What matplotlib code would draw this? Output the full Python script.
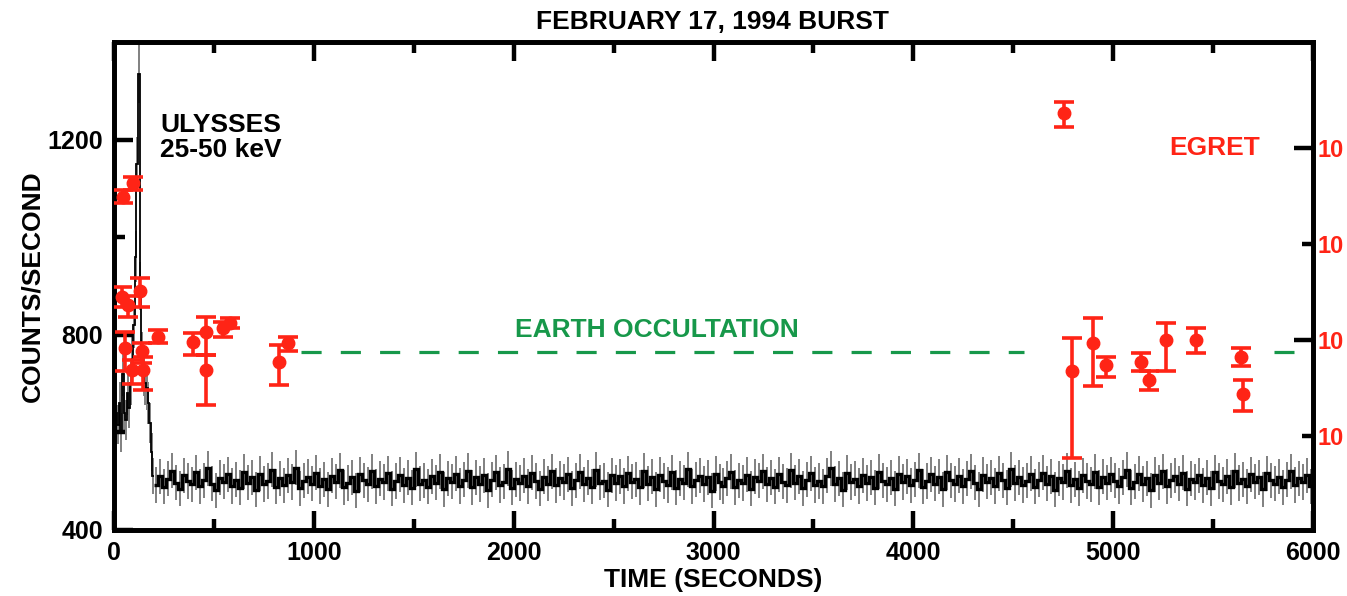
import numpy as np
import matplotlib
matplotlib.use("Agg")
import matplotlib.pyplot as plt
from matplotlib.ticker import FixedLocator, FixedFormatter

plt.rcParams['font.family'] = ['Liberation Sans', 'DejaVu Sans']
plt.rcParams['font.weight'] = 'bold'

# Ulysses 25-50 keV: burst in 8 s bins, then background in 20 s bins
burst_edges = np.arange(0, 201, 8)
burst_counts = [605, 640, 615, 660, 600, 720, 640, 625, 680, 650, 700, 750, 820,
                960, 1150, 1335, 900, 760, 720, 700, 690, 660, 620, 560, 510]
burst_err = [40, 42, 40, 43, 40, 45, 42, 41, 44, 42, 44, 46, 48,
             52, 56, 60, 50, 46, 45, 44, 44, 43, 41, 39, 37]

bg_edges = np.arange(200, 6001, 20)
bg_counts = [
    492, 510, 488, 505, 521, 497, 484, 512, 500, 493, 518, 489, 502, 526, 495, 481, 507, 499, 514, 490,
    503, 486, 519, 497, 508, 482, 515, 494, 500, 523, 488, 506, 491, 512, 498, 527, 485, 501, 509, 495,
    517, 490, 504, 483, 511, 499, 522, 487, 496, 508, 480, 514, 502, 493, 520, 489, 505, 498, 516, 484,
    500, 513, 491, 507, 486, 524, 495, 502, 488, 510, 497, 519, 483, 506, 499, 515, 490, 503, 521, 487,
    508, 494, 512, 481, 503, 518, 492, 499, 525, 486, 504, 496, 511, 489, 517, 500, 484, 509, 495, 520,
    491, 506, 498, 514, 485, 502, 519, 493, 507, 488, 523, 497, 501, 482, 512, 496, 510, 490, 516, 499,
    504, 487, 521, 495, 509, 483, 513, 500, 492, 518, 486, 505, 497, 524, 489, 503, 511, 494, 508, 480,
    515, 498, 490, 506, 519, 487, 502, 496, 513, 484, 509, 501, 520, 493, 507, 488, 514, 499, 491, 522,
    497, 510, 485, 503, 516, 492, 500, 489, 511, 526, 494, 506, 482, 517, 498, 505, 490, 512, 496, 508,
    486, 519, 501, 493, 507, 484, 515, 498, 510, 491, 503, 522, 488, 500, 514, 495, 509, 483, 518, 502,
    494, 511, 489, 505, 520, 497, 483, 513, 499, 507, 490, 516, 502, 486, 524, 496, 508, 492, 501, 515,
    488, 503, 517, 495, 510, 482, 506, 498, 521, 491, 504, 485, 512, 500, 493, 519, 487, 509, 497, 514,
    501, 490, 508, 523, 486, 499, 515, 494, 506, 481, 513, 497, 520, 489, 502, 511, 495, 517, 484, 505,
    498, 512, 491, 507, 485, 518, 500, 493, 510, 487, 521, 496, 504, 489, 514, 499, 508, 483, 516, 502,
    495, 509, 487, 503, 520, 492, 506, 498, 512, 489]
bg_err = 36

# EGRET points (time in s, flux with lower / upper limits)
egret_t = [47, 97, 38, 72, 130, 55, 139, 88, 147, 222, 394, 460, 460, 547, 580, 827, 872,
           4755, 4794, 4900, 4964, 5139, 5180, 5264, 5414, 5639, 5650]
egret_flux = [3.1e-6, 4.3e-6, 2.8e-7, 2.3e-7, 3.2e-7, 8.2e-8, 7.6e-8, 4.9e-8, 4.9e-8,
              1.08e-7, 9.4e-8, 1.22e-7, 4.9e-8, 1.32e-7, 1.49e-7, 5.9e-8, 9.2e-8,
              2.3e-5, 4.7e-8, 9.2e-8, 5.5e-8, 5.9e-8, 3.8e-8, 1.0e-7, 1.0e-7, 6.6e-8, 2.7e-8]
egret_lo = [2.65e-6, 3.65e-6, 2.2e-7, 1.75e-7, 2.2e-7, 4.7e-8, 5.7e-8, 3.5e-8, 3.0e-8,
            9.2e-8, 7.0e-8, 7.0e-8, 2.1e-8, 1.08e-7, 1.32e-7, 3.4e-8, 7.6e-8,
            1.67e-5, 5.9e-9, 3.3e-8, 4.1e-8, 4.7e-8, 3.0e-8, 4.8e-8, 7.3e-8, 5.3e-8, 1.8e-8]
egret_hi = [3.65e-6, 5.0e-6, 3.6e-7, 2.9e-7, 4.4e-7, 1.22e-7, 9.2e-8, 6.2e-8, 6.7e-8,
            1.27e-7, 1.17e-7, 1.75e-7, 7.0e-8, 1.55e-7, 1.68e-7, 8.9e-8, 1.08e-7,
            3.0e-5, 1.04e-7, 1.68e-7, 6.7e-8, 7.3e-8, 4.7e-8, 1.49e-7, 1.32e-7, 8.2e-8, 3.8e-8]

# earth occultation intervals
occ_start = [938, 5805]
occ_end = [4555, 5905]
occ_level = 765

red = '#ff2416'
green = '#17984a'

fig = plt.figure(figsize=(13.47, 5.96), dpi=100)
ax = fig.add_axes([0.0846, 0.111, 0.8902, 0.8185])

# ulysses light curve
for edges, counts, err, lw in [(burst_edges, burst_counts, burst_err, 1.3),
                               (bg_edges, bg_counts, bg_err, 2.4)]:
    counts = np.array(counts)
    mids = 0.5 * (edges[:-1] + edges[1:])
    ax.vlines(mids, counts - err, counts + err, color='0.5', lw=1.4, zorder=1)
    ax.stairs(counts, edges, baseline=None, color='black', lw=lw, zorder=2)

for s, e in zip(occ_start, occ_end):
    ax.plot([s, e], [occ_level, occ_level], color=green, lw=2.3,
            dashes=(6.3, 6.0), zorder=3)

ax.set_xlim(0, 6000)
ax.set_ylim(400, 1400)
ax.xaxis.set_major_locator(FixedLocator([0, 1000, 2000, 3000, 4000, 5000, 6000]))
ax.xaxis.set_minor_locator(FixedLocator([500, 1500, 2500, 3500, 4500, 5500]))
ax.yaxis.set_major_locator(FixedLocator([400, 800, 1200]))
ax.yaxis.set_minor_locator(FixedLocator([600, 1000]))
ax.tick_params(which='both', direction='in', width=3.2, top=True, right=False,
               labelsize=18, pad=8)
ax.tick_params(which='major', length=14)
ax.tick_params(which='minor', length=8)
for sp in ax.spines.values():
    sp.set_linewidth(3.4)

ax.set_xlabel('TIME (SECONDS)', fontsize=19, fontweight='bold', labelpad=2)
ax.set_ylabel('COUNTS/SECOND', fontsize=19, fontweight='bold', labelpad=2)

ax.text(230, 1255, 'ULYSSES\n25-50 keV', fontsize=19, fontweight='bold',
        va='top', ha='left', linespacing=1.05)
ax.text(5280, 1183, 'EGRET', fontsize=19, fontweight='bold', color=red,
        va='center', ha='left')
ax.text(2005, 810, 'EARTH OCCULTATION', fontsize=19, fontweight='bold', color=green,
        va='center', ha='left')

# egret on right log axis
ax2 = ax.twinx()
ax2.set_yscale('log')
ax2.set_ylim(10 ** -8.979, 10 ** -3.896)
flux = np.array(egret_flux)
yerr = [flux - np.array(egret_lo), np.array(egret_hi) - flux]
ax2.errorbar(egret_t, flux, yerr=yerr, fmt='o', color=red, ms=9, elinewidth=2.6,
             capsize=7, capthick=2.6, zorder=5)
ax2.yaxis.set_major_locator(FixedLocator([1e-5, 1e-7]))
ax2.yaxis.set_minor_locator(FixedLocator([1e-6, 1e-8]))
ax2.yaxis.set_major_formatter(FixedFormatter(['10', '10']))
ax2.yaxis.set_minor_formatter(FixedFormatter(['10', '10']))
ax2.tick_params(which='both', direction='in', width=3.2, labelsize=17,
                labelcolor=red, pad=3)
ax2.tick_params(which='major', length=14)
ax2.tick_params(which='minor', length=8)
for sp in ax2.spines.values():
    sp.set_linewidth(3.4)

fig.text(0.529, 0.963, 'FEBRUARY 17, 1994 BURST', fontsize=19, fontweight='bold',
         ha='center', va='center')

fig.savefig('out.png', dpi=100)
